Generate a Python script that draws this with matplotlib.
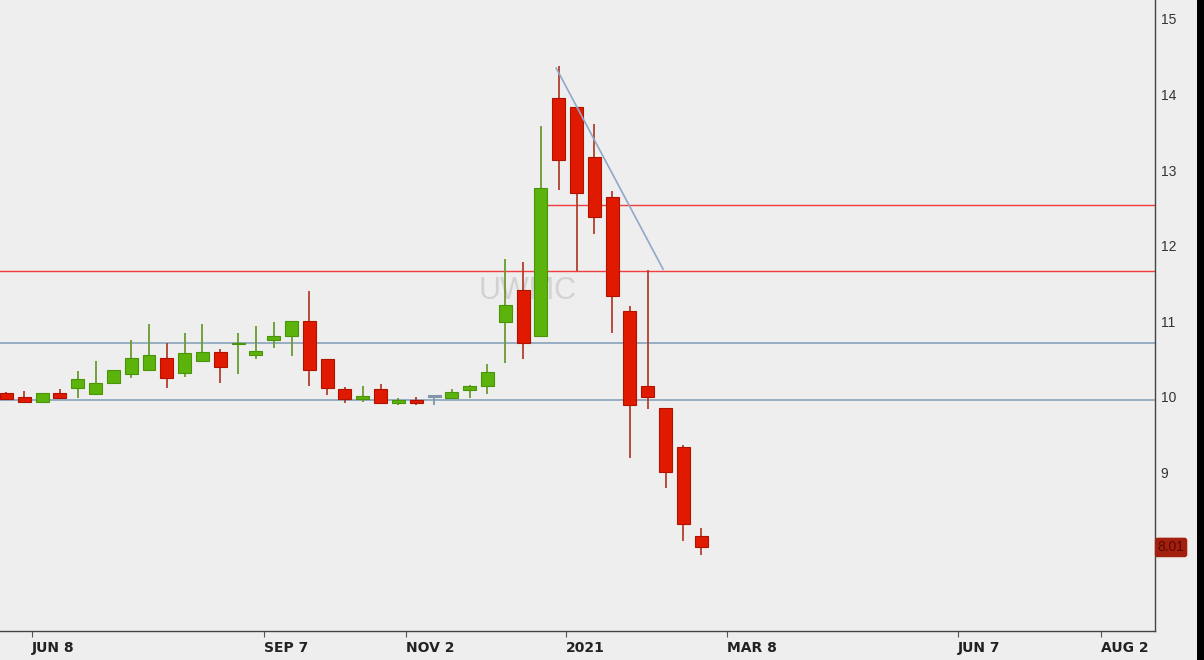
"""
UWMC weekly candlestick chart with support/resistance lines.
"""

import numpy as np
import pandas as pd
import matplotlib
matplotlib.use("Agg")
import matplotlib.pyplot as plt
import matplotlib.dates as mdates
from matplotlib import font_manager
from matplotlib.patches import Rectangle

# Weekly candles (week ending Fridays)
week_dates = pd.date_range("2020-05-29", periods=40, freq="7D")
opens = [10.05, 10.00, 9.94, 10.05, 10.12, 10.04, 10.19, 10.30, 10.36, 10.51,
         10.32, 10.47, 10.59, 10.70, 10.55, 10.75, 10.80, 11.00, 10.50, 10.10,
         9.97, 10.10, 9.92, 9.96, 10.00, 9.99, 10.09, 10.14, 10.99, 11.42,
         10.80, 13.95, 13.83, 13.17, 12.65, 11.14, 10.15, 9.85, 9.34, 8.16]
closes = [9.97, 9.94, 10.05, 9.99, 10.24, 10.19, 10.36, 10.51, 10.55, 10.25,
          10.58, 10.59, 10.39, 10.72, 10.61, 10.81, 11.00, 10.36, 10.12, 9.97,
          10.01, 9.92, 9.96, 9.92, 10.00, 10.07, 10.14, 10.33, 11.22, 10.72,
          12.76, 13.13, 12.70, 12.38, 11.34, 9.90, 10.00, 9.01, 8.32, 8.01]
highs = [10.06, 10.08, 10.05, 10.11, 10.35, 10.48, 10.36, 10.75, 10.96, 10.72,
         10.84, 10.96, 10.64, 10.84, 10.94, 10.99, 11.00, 11.40, 10.50, 10.13,
         10.15, 10.17, 9.98, 10.00, 10.00, 10.10, 10.16, 10.43, 11.83, 11.79,
         13.59, 14.38, 13.83, 13.61, 12.73, 11.20, 11.68, 9.85, 9.36, 8.27]
lows = [9.96, 9.93, 9.94, 9.99, 9.98, 10.04, 10.19, 10.25, 10.36, 10.12,
        10.27, 10.47, 10.19, 10.30, 10.50, 10.65, 10.54, 10.14, 10.02, 9.92,
        9.94, 9.92, 9.89, 9.89, 9.90, 9.97, 9.98, 10.04, 10.45, 10.50,
        10.80, 12.74, 11.67, 12.15, 10.84, 9.19, 9.84, 8.80, 8.09, 7.91]

# drawn levels
blue_levels = [10.71, 9.96]
red_levels = [11.67]
red_level_from_spike = 12.54
trend_dates = ["2020-12-31", "2021-02-11"]
trend_values = [14.35, 11.69]

tick_dates = ["2020-06-08", "2020-09-07", "2020-11-02", "2021-01-04",
              "2021-03-08", "2021-06-07", "2021-08-02"]
tick_labels = ["JUN 8", "SEP 7", "NOV 2", "2021", "MAR 8", "JUN 7", "AUG 2"]
y_ticks = [9, 10, 11, 12, 13, 14, 15]

BG = "#eeeeee"
GREEN, GREEN_EDGE, GREEN_WICK = "#5cb30c", "#4a9408", "#6a9a30"
RED, RED_EDGE, RED_WICK = "#e01a00", "#b01200", "#b0402e"
DOJI = "#8394ab"
LINE_RED = "#f03c3c"

names = {f.name for f in font_manager.fontManager.ttflist}
xfont = "Liberation Sans Narrow" if "Liberation Sans Narrow" in names else "DejaVu Sans"
yfont = "Liberation Sans" if "Liberation Sans" in names else "DejaVu Sans"

fig = plt.figure(figsize=(12.04, 6.6), dpi=100, facecolor=BG)
ax = fig.add_axes([0.0, 29 / 660, 1155 / 1204, 631 / 660])
ax.set_facecolor(BG)

x = mdates.date2num(week_dates)
body_w = 5.1

for xi, o, c, h, l in zip(x, opens, closes, highs, lows):
    if c > o:
        fc, ec, wc = GREEN, GREEN_EDGE, GREEN_WICK
    elif c < o:
        fc, ec, wc = RED, RED_EDGE, RED_WICK
    else:
        fc, ec, wc = DOJI, DOJI, DOJI
    ax.vlines(xi, l, h, color=wc, linewidth=1.3, zorder=3)
    bottom = min(o, c)
    height = max(abs(c - o), 0.02)
    ax.bar(xi, height, bottom=bottom, width=body_w, color=fc,
           edgecolor=ec, linewidth=0.8, zorder=4)

for lvl in blue_levels:
    ax.axhline(lvl, color="#7f9bb5", linewidth=1.1, zorder=2)
for lvl in red_levels:
    ax.axhline(lvl, color=LINE_RED, linewidth=1.0, zorder=2)

# upper resistance starts at the big green candle
spike = int(np.argmax(np.array(closes) - np.array(opens)))
ax.hlines(red_level_from_spike, x[spike] + body_w / 2, x[0] + 460,
          color=LINE_RED, linewidth=1.0, zorder=2)

ax.plot(mdates.date2num(pd.to_datetime(trend_dates)), trend_values,
        color="#90a8c8", linewidth=1.2, zorder=5)

ax.text(0.457, 0.539, "UWMC", transform=ax.transAxes, fontsize=22,
        color="#d2d2d2", ha="center", va="center", family=yfont, zorder=1)

ax.set_xlim(x[0] - 2.55, x[0] + 451.3)
ax.set_ylim(6.905, 15.25)

ax.set_xticks(mdates.date2num(pd.to_datetime(tick_dates)))
ax.set_xticklabels(tick_labels, ha="left", fontsize=10, fontweight="bold",
                   family=xfont, color="#222222")
ax.tick_params(axis="x", direction="out", length=4, width=0.8,
               color="#555555", pad=3)

ax.yaxis.tick_right()
ax.set_yticks(y_ticks)
ax.set_yticklabels([str(v) for v in y_ticks], fontsize=10, family=yfont,
                   color="#333333")
ax.tick_params(axis="y", length=0, pad=4)

for side in ["top", "left"]:
    ax.spines[side].set_visible(False)
for side in ["right", "bottom"]:
    ax.spines[side].set_color("#444444")
    ax.spines[side].set_linewidth(1.0)

# last price tag
ax.text(1.0139, closes[-1], f"{closes[-1]:.2f}", transform=ax.get_yaxis_transform(),
        fontsize=10, family=yfont, color="#5a0800", ha="center", va="center",
        bbox=dict(boxstyle="round,pad=0.15", facecolor="#a3200f", edgecolor="#a3200f"),
        clip_on=False)

fig.patches.append(Rectangle((1197 / 1204, 0), 7 / 1204, 1, transform=fig.transFigure,
                             facecolor="black", edgecolor="none"))

fig.savefig("out.png", dpi=100, facecolor=BG)
